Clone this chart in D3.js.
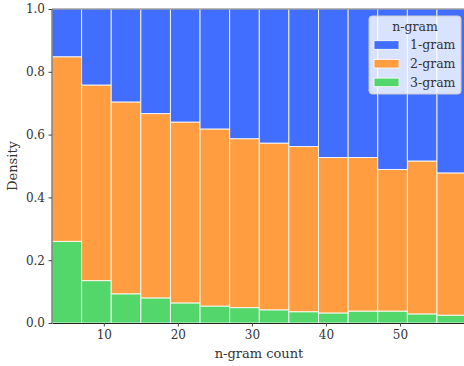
<!DOCTYPE html>
<html>
<head>
<meta charset="utf-8">
<script src="https://cdn.jsdelivr.net/npm/d3@7"></script>
<style>
  body { margin: 0; background: #fff; }
  text { font-family: "DejaVu Serif", serif; fill: #333; }
</style>
</head>
<body>
<div id="chart"></div>
<script>
// bin edges of the n-gram count histogram
var binEdges = [3, 7, 11, 15, 19, 23, 27, 31, 35, 39, 43, 47, 51, 55, 59];
var series = ["1-gram", "2-gram", "3-gram"];
// share of each n-gram type per bin (normalised)
var unigram = [0.152, 0.242, 0.296, 0.333, 0.360, 0.382, 0.413, 0.427, 0.438, 0.473, 0.473, 0.511, 0.484, 0.522];
var bigram  = [0.588, 0.623, 0.611, 0.587, 0.576, 0.564, 0.538, 0.531, 0.526, 0.495, 0.489, 0.451, 0.487, 0.453];
var trigram = [0.260, 0.135, 0.093, 0.080, 0.064, 0.054, 0.049, 0.042, 0.036, 0.032, 0.038, 0.038, 0.029, 0.025];
var xTicks = [10, 20, 30, 40, 50];
var yTicks = [0, 0.2, 0.4, 0.6, 0.8, 1.0];

var colors = {"1-gram": "#416eff", "2-gram": "#ff9d40", "3-gram": "#53d66a"};

var margin = {top: 9, left: 52, bottom: 43},
    W = 464, H = 366;
var plotW = 414.6, plotH = H - margin.top - margin.bottom;

var svg = d3.select("#chart").append("svg")
  .attr("width", W).attr("height", H);
var g = svg.append("g")
  .attr("transform", "translate(" + margin.left + "," + margin.top + ")");

var x = d3.scaleLinear().domain([3, 59]).range([0, plotW]);
var y = d3.scaleLinear().domain([0, 1]).range([plotH, 0]);

var rows = binEdges.slice(0, -1).map(function(e, i) {
  return {x0: e, x1: binEdges[i + 1], "1-gram": unigram[i], "2-gram": bigram[i], "3-gram": trigram[i]};
});

// stack bottom to top: 3-gram, 2-gram, 1-gram
var stack = d3.stack().keys(["3-gram", "2-gram", "1-gram"]);
var layers = stack(rows);

g.selectAll("g.layer")
  .data(layers)
  .enter().append("g")
    .attr("fill", function(d) { return colors[d.key]; })
  .selectAll("rect")
  .data(function(d) { return d; })
  .enter().append("rect")
    .attr("x", function(d) { return x(d.data.x0); })
    .attr("width", function(d) { return x(d.data.x1) - x(d.data.x0); })
    .attr("y", function(d) { return y(d[1]); })
    .attr("height", function(d) { return y(d[0]) - y(d[1]); })
    .attr("stroke", "#fff")
    .attr("stroke-opacity", 0.85)
    .attr("stroke-width", 1);

// spines
g.append("line").attr("x1", 0).attr("x2", plotW).attr("y1", 0).attr("y2", 0)
  .attr("stroke", "#777").attr("stroke-width", 1.2);
g.append("line").attr("x1", 0).attr("x2", 0).attr("y1", 0).attr("y2", plotH)
  .attr("stroke", "#666").attr("stroke-width", 1.2);

// X axis
var xAxis = g.append("g")
  .attr("transform", "translate(0," + plotH + ")")
  .call(d3.axisBottom(x).tickValues(xTicks).tickSize(3.5).tickPadding(3.5).tickSizeOuter(0));
xAxis.select(".domain").attr("stroke", "#222").attr("stroke-width", 1.2);
xAxis.selectAll(".tick line").attr("stroke", "#444");
xAxis.selectAll("text").style("font-size", "12px").attr("fill", "#333");

// Y axis
var yAxis = g.append("g")
  .call(d3.axisLeft(y).tickValues(yTicks).tickFormat(d3.format(".1f")).tickSize(3.5).tickPadding(3.5));
yAxis.select(".domain").remove();
yAxis.selectAll(".tick line").attr("stroke", "#444");
yAxis.selectAll("text").style("font-size", "12px").attr("fill", "#333");

// axis labels
svg.append("text")
  .attr("x", 259)
  .attr("y", 358)
  .attr("text-anchor", "middle")
  .style("font-size", "13px")
  .text("n-gram count");
svg.append("text")
  .attr("transform", "translate(17," + (margin.top + plotH / 2) + ") rotate(-90)")
  .attr("text-anchor", "middle")
  .style("font-size", "13px")
  .text("Density");

// legend
var lg = svg.append("g").attr("transform", "translate(369,16)");
lg.append("rect")
  .attr("width", 92).attr("height", 78).attr("rx", 3)
  .attr("fill", "#fff").attr("fill-opacity", 0.8)
  .attr("stroke", "#ccc").attr("stroke-width", 1);
lg.append("text")
  .attr("x", 46).attr("y", 15)
  .attr("text-anchor", "middle")
  .style("font-size", "12.5px")
  .text("n-gram");
series.forEach(function(s, i) {
  var yy = 29 + i * 18.7;
  lg.append("rect")
    .attr("x", 5).attr("y", yy - 4.3)
    .attr("width", 25).attr("height", 8.6)
    .attr("fill", colors[s])
    .attr("stroke", "#fff").attr("stroke-width", 0.8);
  lg.append("text")
    .attr("x", 41).attr("y", yy + 4.3)
    .style("font-size", "12.5px")
    .text(s);
});
</script>
</body>
</html>
